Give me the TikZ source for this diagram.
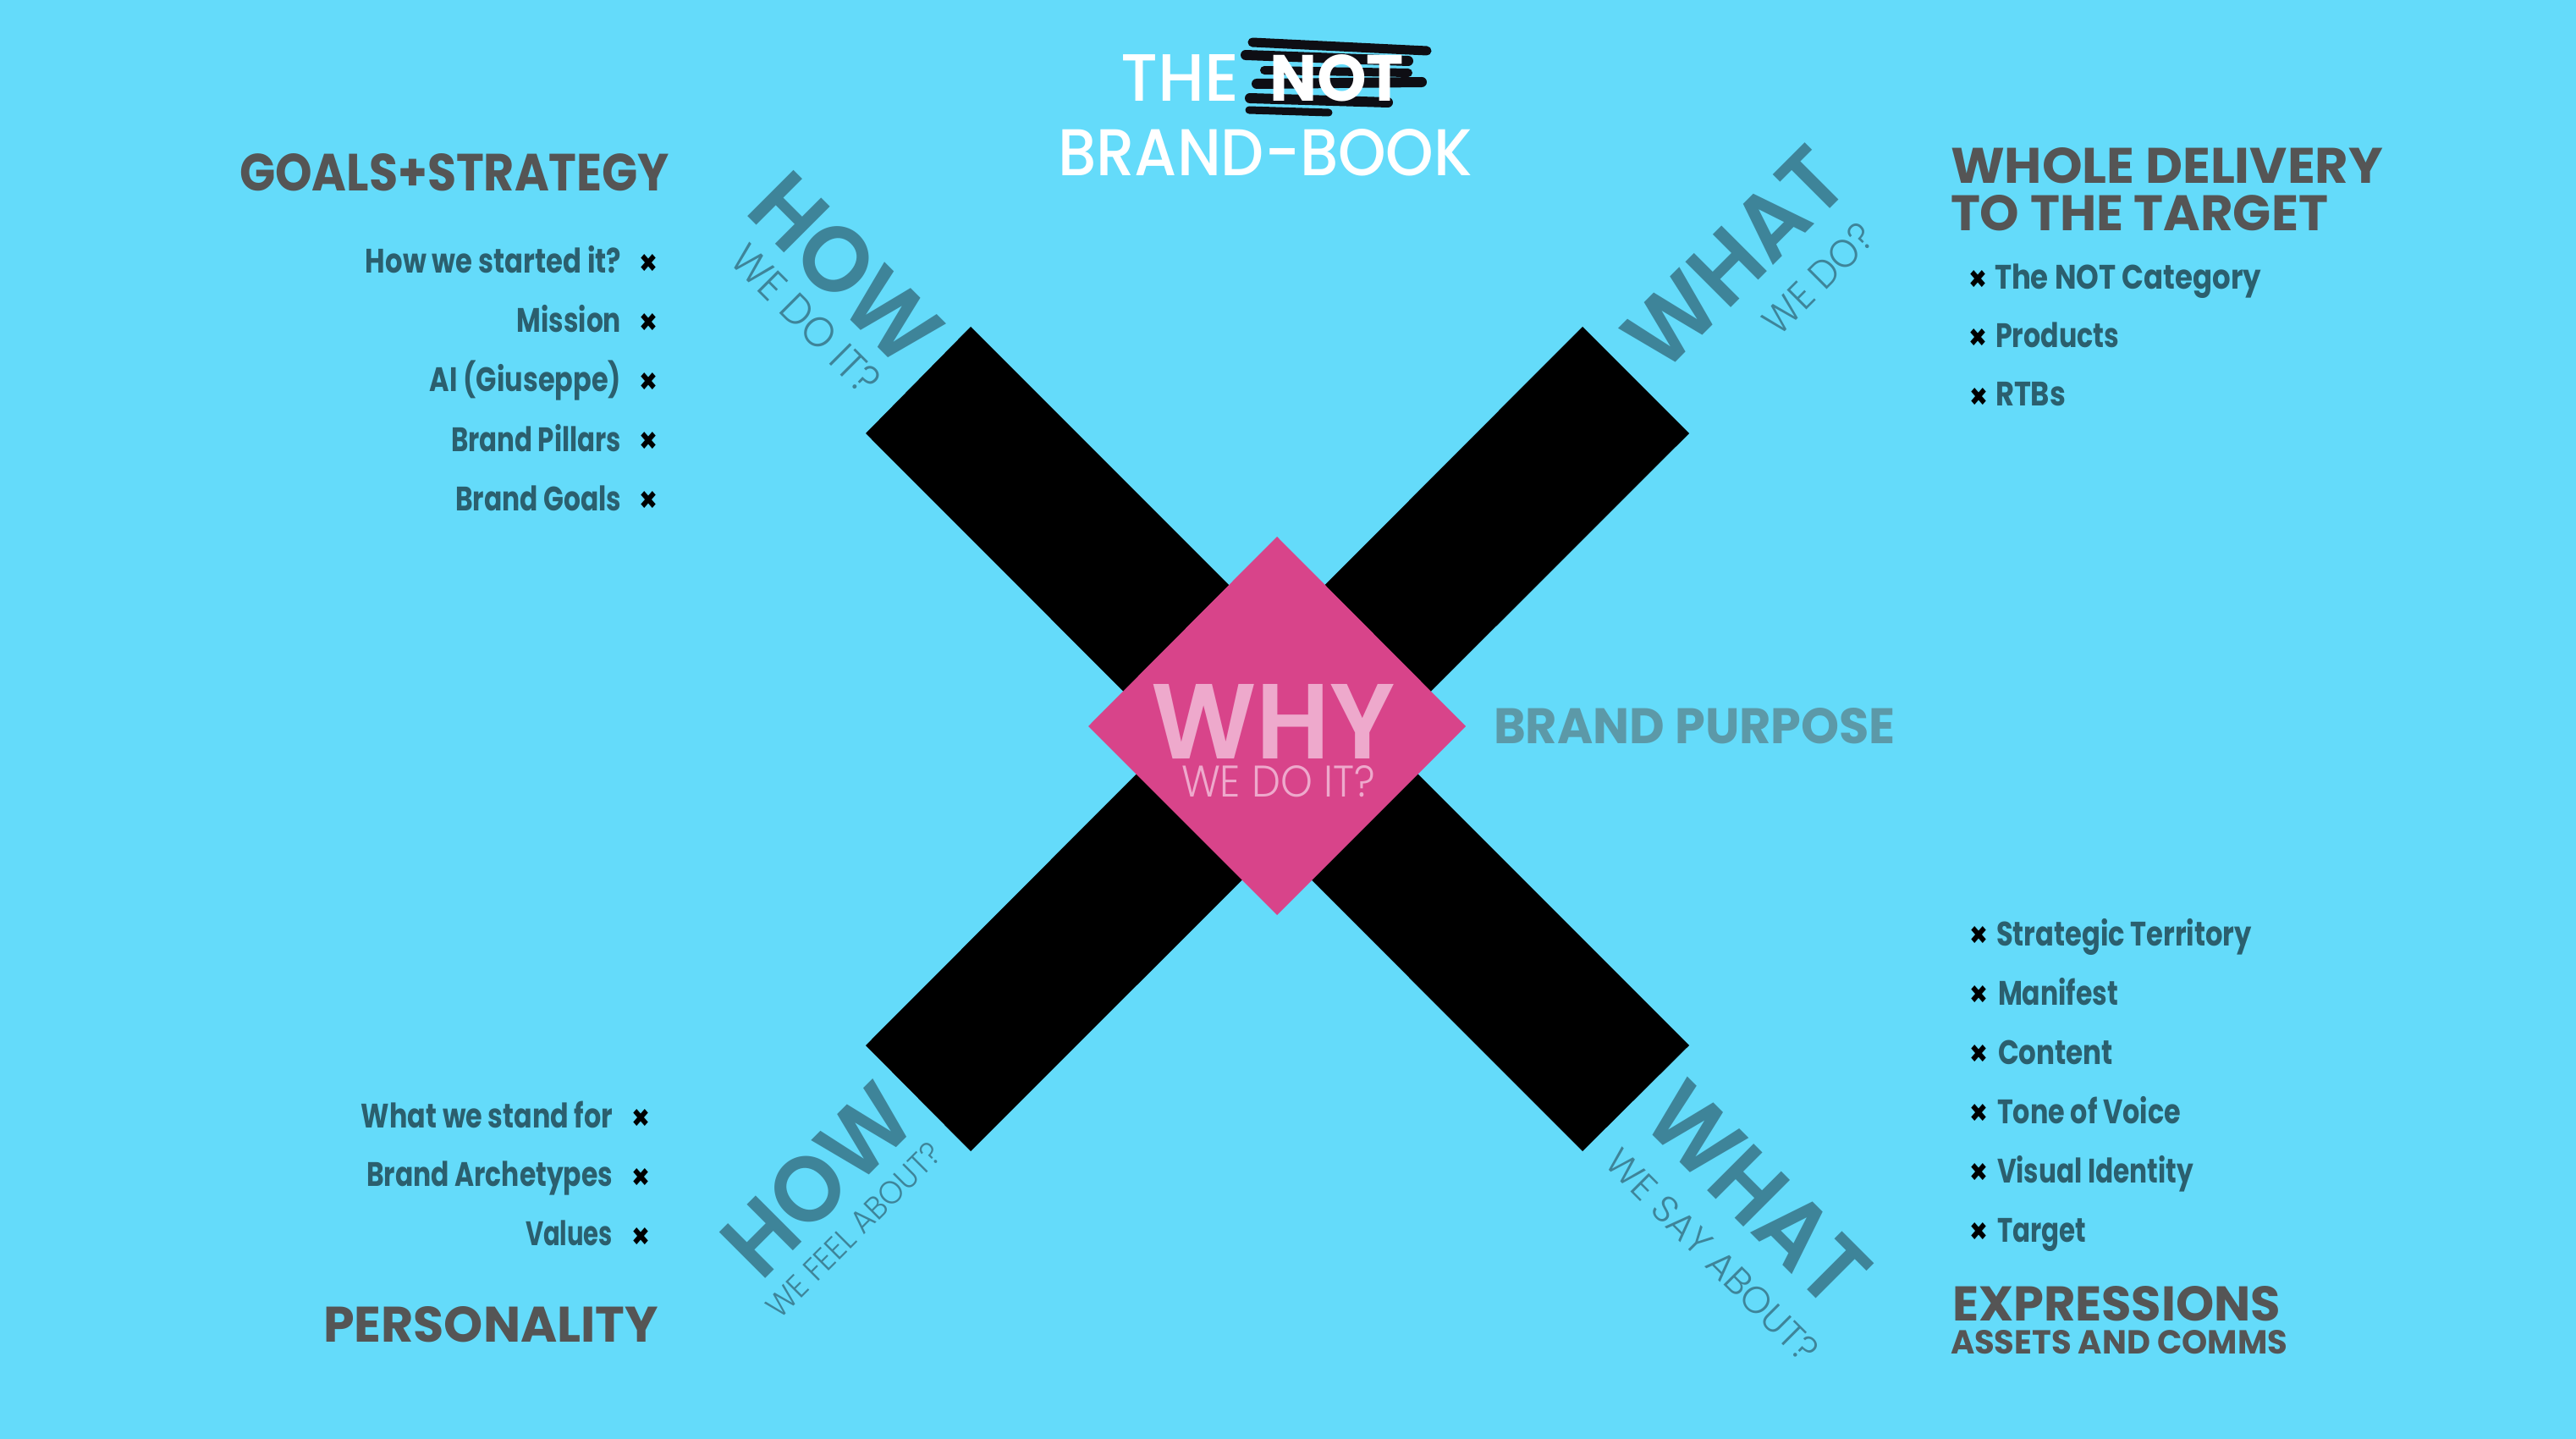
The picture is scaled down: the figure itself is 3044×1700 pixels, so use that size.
\documentclass[tikz,border=0pt]{standalone}
\usepackage{fontspec}
\usepackage{graphicx}
\setmainfont{Poppins}
\IfFontExistsTF{Poppins SemiBold}{\newfontfamily\fsemi{Poppins SemiBold}}{\newcommand\fsemi{\bfseries}}
\IfFontExistsTF{Poppins Medium}{\newfontfamily\fmed{Poppins Medium}}{\newcommand\fmed{\normalfont}}
\IfFontExistsTF{Poppins Light}{\newfontfamily\fthin{Poppins Light}}{\IfFontExistsTF{Lato Light}{\newfontfamily\fthin{Lato Light}}{\newcommand\fthin{\normalfont}}}
\newfontfamily\fsym{DejaVu Sans}
\newlength\px \setlength\px{0.01cm}
\newsavebox\tbox
\newlength\tht
\newcommand\capbox[3]{\resizebox{#1\px}{#2\px}{#3}}
\newcommand\wfit[2]{\sbox\tbox{#2}\setlength\tht{\ht\tbox}\resizebox{#1\px}{\tht}{#2}}
\newcommand\fitem{\bfseries\fontsize{11.4}{12}\selectfont}
\newcommand\xmk{\resizebox{22\px}{21\px}{\fsym ✖}}
\definecolor{bgc}{HTML}{64DBFA}
\definecolor{hgray}{HTML}{555555}
\definecolor{iteal}{HTML}{2B5F6E}
\definecolor{lteal}{HTML}{3E8499}
\definecolor{pteal}{HTML}{5C99A8}
\definecolor{dpink}{HTML}{D8448A}
\definecolor{lpink}{HTML}{EEA9CC}
\definecolor{inkc}{HTML}{0E0E14}
\tikzset{
  itemR/.style={anchor=base east,text=iteal},
  itemL/.style={anchor=base west,text=iteal},
  head/.style={anchor=base west,text=hgray},
  titl/.style={anchor=base west,text=white},
  rlab/.style={anchor=center,text=lteal},
  xmark/.style={anchor=center,text=black},
  brush/.style={draw=inkc,line cap=round},
}
\begin{document}
\begin{tikzpicture}[x=0.01cm,y=-0.01cm,every node/.style={inner sep=0pt,outer sep=0pt}]
\path[use as bounding box] (0,0) rectangle (3044,1700);
\fill[bgc] (0,0) rectangle (3044,1700);

% the X
\fill[black] (1147,386) -- (1996,1235) -- (1870,1360) -- (1023,512) -- cycle;
\fill[black] (1870,386) -- (1996,512) -- (1147,1360) -- (1023,1235) -- cycle;
% the diamond
\fill[dpink] (1509,634) -- (1732,858) -- (1509,1081) -- (1286,858) -- cycle;
\node[anchor=base west,text=lpink] (why) at (1360,896) {\capbox{289}{88}{\fsemi WHY}};
\node[anchor=base west,text=lpink] (whysub) at (1396,941) {\capbox{229}{37}{\fthin WE DO IT?}};

% title scribble
\draw[brush,line width=11\px] (1480,50) -- (1686,60);
\draw[brush,line width=12\px] (1472,65) -- (1664,72);
\draw[brush,line width=10\px] (1494,83) -- (1664,86);
\draw[brush,line width=12\px] (1485,99) -- (1680,97);
\draw[brush,line width=12\px] (1477,116) -- (1640,121);
\draw[brush,line width=9\px] (1476,130) -- (1570,133);
\node[titl] (the) at (1324,120) {\capbox{140}{55}{\fmed THE}};
\node[titl] (not) at (1500,120) {\capbox{159}{55}{\bfseries NOT}};
\node[titl] (bb) at (1250,208) {\capbox{490}{55}{\fmed BRAND-BOOK}};

% headings
\node[head] (goals) at (283,226) {\capbox{508}{44}{\bfseries GOALS+STRATEGY}};
\node[head] (whole) at (2305,217) {\capbox{511}{42}{\bfseries WHOLE DELIVERY}};
\node[head] (tothe) at (2305,272) {\capbox{446}{42}{\bfseries TO THE TARGET}};
\node[anchor=base west,text=pteal] (purpose) at (1765,878) {\capbox{475}{42}{\bfseries BRAND PURPOSE}};
\node[head] (pers) at (382,1585) {\capbox{396}{42}{\bfseries PERSONALITY}};
\node[head] (expr) at (2307,1560) {\capbox{388}{41}{\bfseries EXPRESSIONS}};
\node[head] (assets) at (2305,1599) {\capbox{398}{28}{\bfseries ASSETS AND COMMS}};

% top-left items
\node[itemR] (tl1) at (734,323) {\wfit{302}{\fitem How we started it?}};
\node[itemR] (tl2) at (734,393) {\wfit{123}{\fitem Mission}};
\node[itemR] (tl3) at (734,463) {\wfit{226}{\fitem AI (Giuseppe)}};
\node[itemR] (tl4) at (734,533) {\wfit{201}{\fitem Brand Pillars}};
\node[itemR] (tl5) at (734,603) {\wfit{196}{\fitem Brand Goals}};
\node[xmark] (tlx1) at (766,311) {\xmk};
\node[xmark] (tlx2) at (766,381) {\xmk};
\node[xmark] (tlx3) at (766,451) {\xmk};
\node[xmark] (tlx4) at (766,521) {\xmk};
\node[xmark] (tlx5) at (766,591) {\xmk};

% bottom-left items
\node[itemR] (bl1) at (724,1332) {\wfit{297}{\fitem What we stand for}};
\node[itemR] (bl2) at (724,1401) {\wfit{291}{\fitem Brand Archetypes}};
\node[itemR] (bl3) at (724,1471) {\wfit{103}{\fitem Values}};
\node[xmark] (blx1) at (757,1321) {\xmk};
\node[xmark] (blx2) at (757,1391) {\xmk};
\node[xmark] (blx3) at (757,1461) {\xmk};

% top-right items
\node[itemL] (tr1) at (2357,341) {\wfit{315}{\fitem The NOT Category}};
\node[itemL] (tr2) at (2358,410) {\wfit{146}{\fitem Products}};
\node[itemL] (tr3) at (2358,480) {\wfit{83}{\fitem RTBs}};
\node[xmark] (trx1) at (2337,330) {\xmk};
\node[xmark] (trx2) at (2337,399) {\xmk};
\node[xmark] (trx3) at (2338,469) {\xmk};

% bottom-right items
\node[itemL] (br1) at (2359,1117) {\wfit{302}{\fitem Strategic Territory}};
\node[itemL] (br2) at (2361,1187) {\wfit{142}{\fitem Manifest}};
\node[itemL] (br3) at (2361,1257) {\wfit{136}{\fitem Content}};
\node[itemL] (br4) at (2360,1327) {\wfit{217}{\fitem Tone of Voice}};
\node[itemL] (br5) at (2360,1397) {\wfit{232}{\fitem Visual Identity}};
\node[itemL] (br6) at (2360,1467) {\wfit{105}{\fitem Target}};
\node[xmark] (brx1) at (2338,1105) {\xmk};
\node[xmark] (brx2) at (2338,1175) {\xmk};
\node[xmark] (brx3) at (2338,1245) {\xmk};
\node[xmark] (brx4) at (2338,1315) {\xmk};
\node[xmark] (brx5) at (2338,1385) {\xmk};
\node[xmark] (brx6) at (2338,1455) {\xmk};

% rotated labels
\node[rlab,rotate=-45] (howtl) at (999.5,317.5) {\capbox{266}{78}{\fsemi HOW}};
\node[rlab,rotate=-45] (howtls) at (952.5,377.5) {\capbox{226}{35}{\fthin WE DO IT?}};
\node[rlab,rotate=45] (whattr) at (2050,305) {\capbox{317}{76}{\fsemi WHAT}};
\node[rlab,rotate=45] (whattrs) at (2149,329) {\capbox{163}{33}{\fthin WE DO?}};
\node[rlab,rotate=45] (howbl) at (966,1394) {\capbox{266}{78}{\fsemi HOW}};
\node[rlab,rotate=45] (howbls) at (1009,1453) {\capbox{275}{27}{\fthin WE FEEL ABOUT?}};
\node[rlab,rotate=-45] (whatbr) at (2077,1410) {\capbox{318}{78}{\fsemi WHAT}};
\node[rlab,rotate=-45] (whatbrs) at (2023.5,1483.5) {\capbox{335}{31}{\fthin WE SAY ABOUT?}};
\end{tikzpicture}
\end{document}
